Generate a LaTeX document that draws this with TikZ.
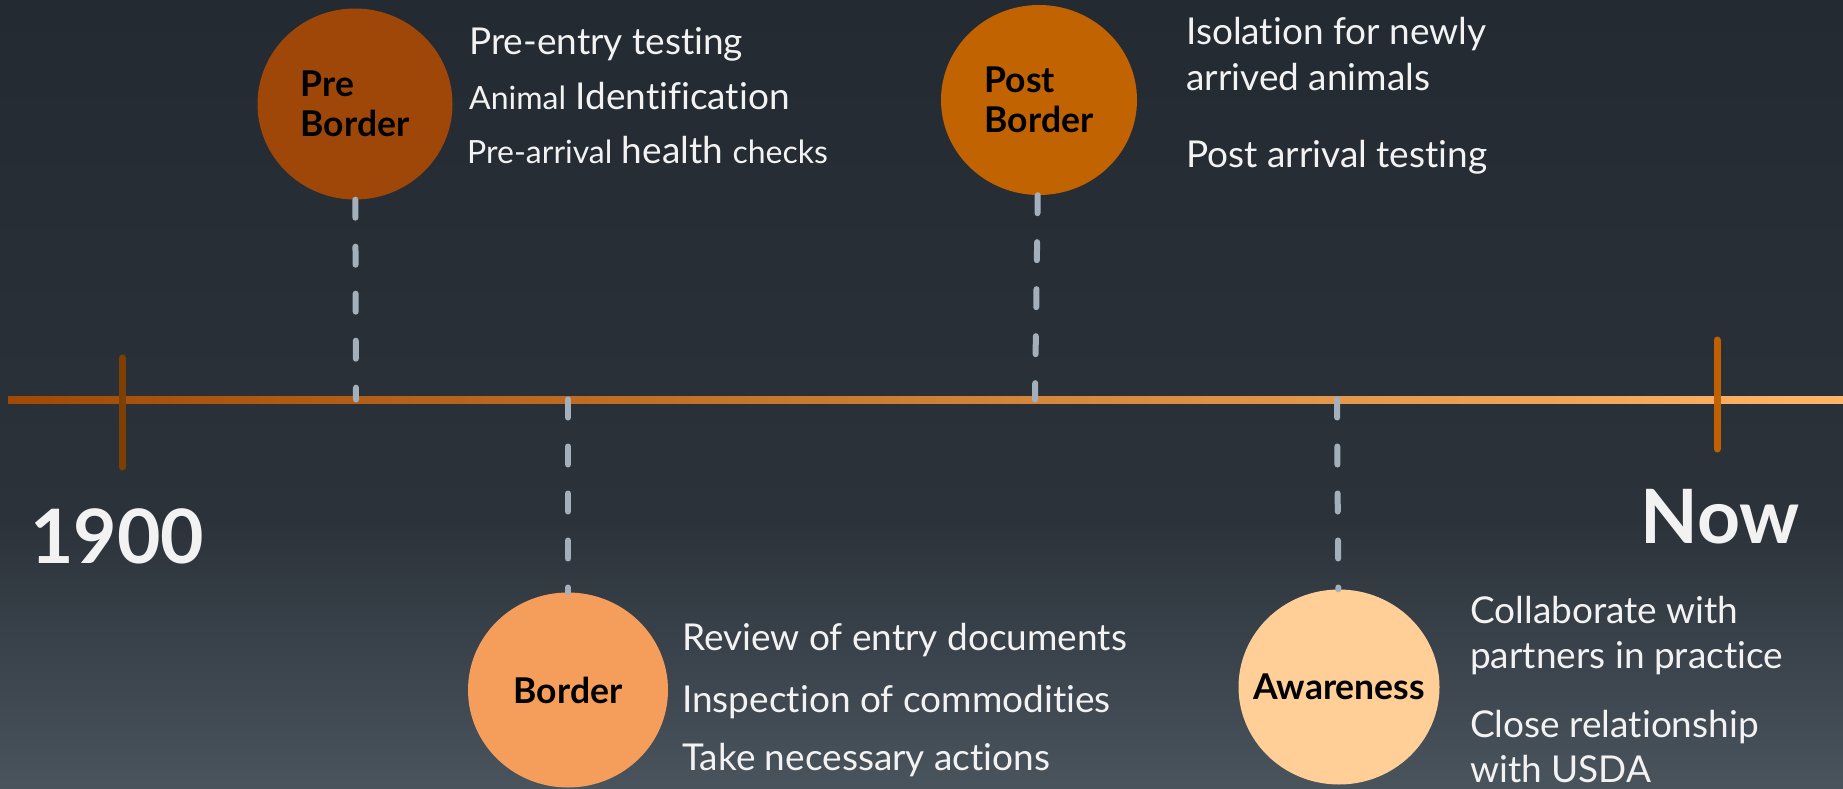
\documentclass[tikz,border=0pt]{standalone}
\usepackage{fontspec}
\setmainfont[Ligatures=NoCommon]{Lato}
\usepackage{tikz}
\usetikzlibrary{shapes.geometric}

\definecolor{bgtop}{HTML}{242A32}
\definecolor{bgmid}{HTML}{2B323A}
\definecolor{bgbot}{HTML}{4A545D}
\definecolor{lineleft}{HTML}{A24A05}
\definecolor{lineright}{HTML}{FFB468}
\definecolor{tickold}{HTML}{7E4000}
\definecolor{ticknow}{HTML}{C06000}
\definecolor{stemgray}{HTML}{A3B0BB}
\definecolor{notewhite}{HTML}{F2F2F2}
\definecolor{preorange}{HTML}{9E4709}
\definecolor{postorange}{HTML}{C06300}
\definecolor{borderorange}{HTML}{F59E5B}
\definecolor{awarepeach}{HTML}{FFCF97}

\pgfdeclareverticalshading{backdrop}{100bp}{color(0bp)=(bgbot); color(25bp)=(bgbot); color(42bp)=(bgmid); color(75bp)=(bgtop); color(100bp)=(bgtop)}

\newcommand{\smalltxt}[1]{{\fontsize{32}{36}\selectfont #1}}

\begin{document}
\begin{tikzpicture}[x=1pt, y=-1pt,
    stage/.style={ellipse, inner ysep=0pt, inner xsep=-40pt, align=left, text=black,
        font=\bfseries\fontsize{35.5}{40}\selectfont},
    note/.style={anchor=base west, inner sep=0pt, text=notewhite,
        font=\fontsize{37}{42}\selectfont},
    year/.style={inner sep=0pt, text=notewhite,
        font=\bfseries\fontsize{75}{80}\selectfont},
    tick/.style={line width=7pt, line cap=round},
    stem/.style={draw=stemgray, line width=6pt, line cap=round,
        dash pattern=on 18pt off 29pt}]

    \useasboundingbox (0, 0) rectangle (1843, 789);
    \shade[shading=backdrop] (0, 0) rectangle (1843, 789);

    \shade[left color=lineleft, right color=lineright] (8, 396) rectangle (1843, 403);
    \draw[tick, tickold] (122, 358) -- (122, 467);
    \draw[tick, ticknow] (1717, 340) -- (1717, 449);

    \node[year, anchor=base west] (start) at (30, 563) {1900};
    \node[year, anchor=base east] (now) at (1800, 543) {Now};

    \node[stage, fill=preorange, minimum width=195pt, minimum height=191pt] (pre) at (355, 104) {Pre\\Border};
    \node[stage, fill=postorange, minimum width=196pt, minimum height=190pt] (post) at (1039, 100) {Post\\Border};
    \node[stage, fill=borderorange, minimum width=200pt, minimum height=195pt] (border) at (568, 690) {Border};
    \node[stage, fill=awarepeach, minimum width=201pt, minimum height=195pt] (aware) at (1339, 687) {Awareness};

    \coordinate (t-pre) at (356, 399.5);
    \coordinate (t-post) at (1035, 399.5);
    \coordinate (t-border) at (568, 399.5);
    \coordinate (t-aware) at (1337, 399.5);

    \draw[stem] (pre) -- (t-pre);
    \draw[stem] (post) -- (t-post);
    \draw[stem] (t-border) -- (border);
    \draw[stem] (t-aware) -- (aware);

    \node[note] (pre-a) at (469, 55) {Pre-entry testing};
    \node[note] (pre-b) at (469, 110) {\smalltxt{Animal} Identification};
    \node[note] (pre-c) at (467, 163) {\smalltxt{Pre-arrival} health \smalltxt{checks}};

    \node[note] (post-a) at (1186, 45) {Isolation for newly};
    \node[note] (post-b) at (1186, 91) {arrived animals};
    \node[note] (post-c) at (1186, 167) {Post arrival testing};

    \node[note] (border-a) at (682, 650) {Review of entry documents};
    \node[note] (border-b) at (682, 712) {Inspection of commodities};
    \node[note] (border-c) at (682, 770) {Take necessary actions};

    \node[note] (aware-a) at (1470, 623) {Collaborate with};
    \node[note] (aware-b) at (1470, 668) {partners in practice};
    \node[note] (aware-c) at (1470, 737) {Close relationship};
    \node[note] (aware-d) at (1470, 782) {with USDA};
\end{tikzpicture}
\end{document}
